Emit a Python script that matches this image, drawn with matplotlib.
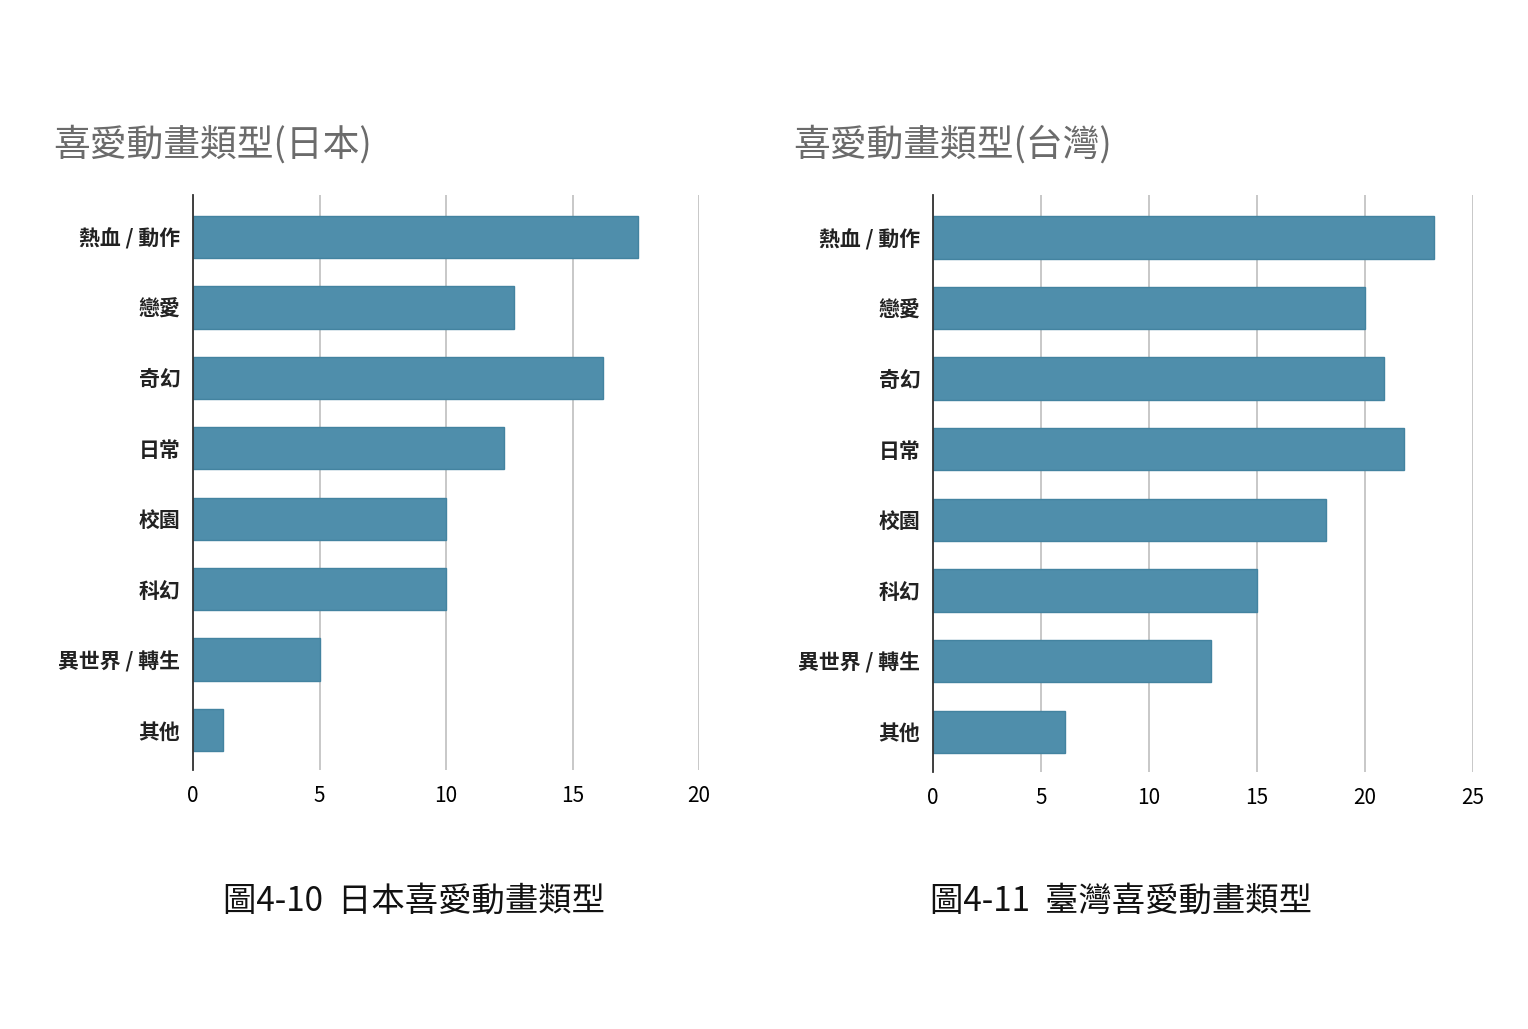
import matplotlib
matplotlib.use("Agg")
import matplotlib.pyplot as plt

plt.rcParams["font.family"] = ["Noto Sans CJK TC", "DejaVu Sans"]

categories = ["熱血 / 動作", "戀愛", "奇幻", "日常", "校園", "科幻", "異世界 / 轉生", "其他"]
japan_values = [17.6, 12.7, 16.2, 12.3, 10, 10, 5, 1.2]
taiwan_values = [23.2, 20, 20.9, 21.8, 18.2, 15, 12.85, 6.1]
japan_ticks = [0, 5, 10, 15, 20]
taiwan_ticks = [0, 5, 10, 15, 20, 25]

BAR = "#4f8eab"
EDGE = "#4383a0"


def draw(ax, values, ticks):
    ax.barh(range(len(categories)), values, height=0.6, color=BAR,
            edgecolor=EDGE, linewidth=1, zorder=3)
    ax.set_yticks(range(len(categories)))
    ax.set_yticklabels(categories, fontsize=15, fontweight="bold", color="#222222")
    ax.set_ylim(7.57, -0.6)
    ax.set_xlim(0, ticks[-1])
    ax.set_xticks(ticks)
    ax.tick_params(axis="x", labelsize=15, length=0, pad=11)
    ax.tick_params(axis="y", length=0, pad=9)
    ax.grid(axis="x", color="#c8c8c8", linewidth=1.4, zorder=0)
    for s in ["top", "right", "bottom"]:
        ax.spines[s].set_visible(False)
    ax.spines["left"].set_color("#333333")
    ax.spines["left"].set_linewidth(1.3)
    ax.spines["left"].set_zorder(4)


fig = plt.figure(figsize=(15.28, 10.29), dpi=100)
ax1 = fig.add_axes([0.1263, 0.2517, 0.3312, 0.5588])
ax2 = fig.add_axes([0.6106, 0.2498, 0.3534, 0.5607])
draw(ax1, japan_values, japan_ticks)
draw(ax2, taiwan_values, taiwan_ticks)

fig.text(53 / 1528, 1 - 145 / 1029, "喜愛動畫類型(日本)", fontsize=26.5,
         color="#6b6b6b", va="center", ha="left")
fig.text(793 / 1528, 1 - 145 / 1029, "喜愛動畫類型(台灣)", fontsize=26.5,
         color="#6b6b6b", va="center", ha="left")
fig.text(414 / 1528, 1 - 901 / 1029, "圖4-10  日本喜愛動畫類型", fontsize=24,
         color="#111111", va="center", ha="center")
fig.text(1121 / 1528, 1 - 901 / 1029, "圖4-11  臺灣喜愛動畫類型", fontsize=24,
         color="#111111", va="center", ha="center")

fig.savefig("out.png", dpi=100)
